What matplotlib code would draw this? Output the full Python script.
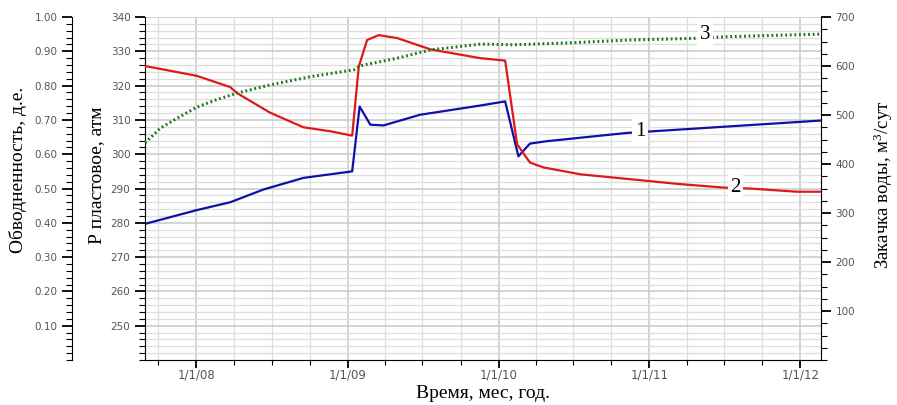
import matplotlib
matplotlib.use("Agg")
import matplotlib.pyplot as plt
import matplotlib.dates as mdates
import numpy as np
import pandas as pd
from matplotlib.ticker import MultipleLocator, FixedLocator, FuncFormatter

# 1 - пластовое давление, атм (blue)
p_dates = ["2007-08-30", "2008-01-02", "2008-03-23", "2008-06-11", "2008-09-16",
           "2009-01-12", "2009-01-30", "2009-02-25", "2009-03-29", "2009-06-25",
           "2009-11-18", "2010-01-17", "2010-02-18", "2010-03-18", "2010-04-28",
           "2010-11-07", "2011-01-11", "2012-02-17"]
p_vals = [279.7, 283.7, 286.0, 289.7, 293.1,
          295.0, 313.9, 308.6, 308.4, 311.5,
          314.2, 315.4, 299.4, 303.1, 303.8,
          306.2, 306.7, 309.8]

# 2 - закачка воды, м3/сут (red)
q_dates = ["2007-08-30", "2008-01-02", "2008-03-23", "2008-04-08", "2008-06-27",
           "2008-09-16", "2008-11-19", "2009-01-12", "2009-01-28", "2009-02-17",
           "2009-03-17", "2009-05-01", "2009-07-20", "2009-11-18", "2010-01-17",
           "2010-02-15", "2010-03-18", "2010-04-20", "2010-07-18", "2010-11-16",
           "2011-03-16", "2011-06-29", "2011-09-01", "2011-12-23", "2012-02-17"]
q_vals = [600, 580, 557, 545, 505,
          475, 467, 458, 599, 653,
          663, 657, 634, 616, 611,
          440, 403, 393, 379, 369,
          359, 352, 350, 343.5, 343.5]

# 3 - обводненность, д.е. (green)
w_dates = ["2007-08-30", "2007-10-06", "2007-11-23", "2008-01-02", "2008-02-19",
           "2008-04-08", "2008-06-27", "2008-10-03", "2009-01-16", "2009-02-01",
           "2009-05-01", "2009-07-20", "2009-11-18", "2010-02-07", "2010-06-08",
           "2010-11-16", "2011-04-26", "2011-07-16", "2012-02-17"]
w_vals = [0.633, 0.676, 0.710, 0.737, 0.759,
          0.778, 0.802, 0.826, 0.846, 0.858,
          0.880, 0.904, 0.921, 0.919, 0.924,
          0.933, 0.938, 0.943, 0.950]

serif = "Liberation Serif"
plt.rcParams["mathtext.fontset"] = "custom"
plt.rcParams["mathtext.rm"] = serif
plt.rcParams["mathtext.it"] = serif + ":italic"

fig = plt.figure(figsize=(8.97, 4.05), dpi=100)
ax = fig.add_axes([0.1617, 0.111, 0.7536, 0.847])
ax_r = ax.twinx()
ax_w = ax.twinx()

tick_col = "#555555"

# main axis (pressure) + grid
ax.set_xlim(pd.Timestamp("2007-08-30"), pd.Timestamp("2012-02-20"))
ax.set_ylim(240, 340)
ax.yaxis.set_major_locator(FixedLocator(np.arange(250, 341, 10)))
ax.yaxis.set_minor_locator(MultipleLocator(2))
ax.xaxis.set_major_locator(mdates.YearLocator())
ax.xaxis.set_minor_locator(mdates.MonthLocator(bymonth=[1, 4, 7, 10]))
ax.xaxis.set_major_formatter(FuncFormatter(
    lambda v, pos: "{}/{}/{:02d}".format(mdates.num2date(v).month, mdates.num2date(v).day,
                                         mdates.num2date(v).year % 100)))
ax.grid(which="major", color="#cccccc", lw=1.2)
ax.grid(which="minor", color="#dddddd", lw=0.9)
ax.set_axisbelow(True)
for s in ["top", "right"]:
    ax.spines[s].set_visible(False)

# right axis (injection)
ax_r.set_ylim(0, 700)
ax_r.yaxis.set_major_locator(FixedLocator(np.arange(100, 701, 100)))
ax_r.yaxis.set_minor_locator(MultipleLocator(25))
for s in ["top", "left", "bottom"]:
    ax_r.spines[s].set_visible(False)

# outer left axis (water cut)
ax_w.set_ylim(0, 1)
ax_w.yaxis.set_ticks_position("left")
ax_w.spines["left"].set_position(("axes", -0.108))
ax_w.spines["left"].set_visible(True)
for s in ["top", "right", "bottom"]:
    ax_w.spines[s].set_visible(False)
ax_w.yaxis.set_major_locator(FixedLocator(np.arange(0.1, 1.01, 0.1)))
ax_w.yaxis.set_minor_locator(MultipleLocator(0.02))
ax_w.yaxis.set_major_formatter(FuncFormatter(lambda v, pos: "%.2f" % v))

for a in (ax, ax_r, ax_w):
    a.tick_params(which="major", length=7, width=1.3, colors="black",
                  labelcolor=tick_col, labelsize=7.5)
    a.tick_params(which="minor", length=4, width=0.8, colors="black")
    for lab in a.get_yticklabels() + a.get_xticklabels():
        lab.set_family("DejaVu Sans")
ax.tick_params(axis="x", which="major", labelsize=8.5, length=5.5, pad=0.5)
ax.tick_params(axis="x", which="minor", length=3.5)

p_x = pd.to_datetime(p_dates)
q_x = pd.to_datetime(q_dates)
w_x = pd.to_datetime(w_dates)

ax.plot(p_x, p_vals, color="#1010a8", lw=1.6)
ax_r.plot(q_x, q_vals, color="#e01818", lw=1.6)
ax_w.plot(w_x, w_vals, color="#1a7a1a", lw=2.2, linestyle=(0, (0.6, 0.9)))

# series numbers
box = dict(facecolor="white", edgecolor="none", pad=2)
ax_w.text(pd.Timestamp("2010-12-10"), 306.6, "1", transform=ax.transData,
          family=serif, fontsize=15, ha="center", va="center", bbox=box, zorder=5)
ax_w.text(pd.Timestamp("2011-07-28"), 353, "2", transform=ax_r.transData,
          family=serif, fontsize=15, ha="center", va="center", bbox=box, zorder=5)
ax_w.text(pd.Timestamp("2011-05-15"), 0.948, "3", transform=ax_w.transData,
          family=serif, fontsize=15, ha="center", va="center", bbox=box, zorder=5)

# axis titles
fig.text(18 / 897, 1 - 170 / 405, "Обводненность, д.е.", rotation=90,
         family=serif, fontsize=14, ha="center", va="center")
fig.text(97 / 897, 1 - 175 / 405, "Р пластовое, атм", rotation=90,
         family=serif, fontsize=14, ha="center", va="center")
fig.text(883 / 897, 1 - 185 / 405, "Закачка воды, м$^3$/сут", rotation=90,
         family=serif, fontsize=13.5, ha="center", va="center")
fig.text(483 / 897, 1 - 393 / 405, "Время, мес, год.",
         family=serif, fontsize=14, ha="center", va="center")

fig.savefig("out.png", dpi=100)
